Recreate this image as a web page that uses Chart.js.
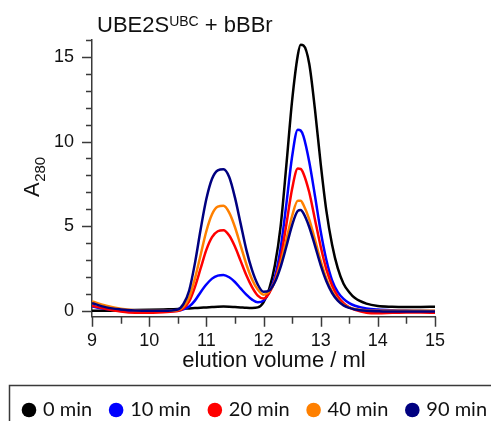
<!DOCTYPE html>
<html>
<head>
<meta charset="utf-8">
<script src="https://cdn.jsdelivr.net/npm/chart.js@4.4.1/dist/chart.umd.min.js"></script>
<style>
  html, body { margin: 0; padding: 0; background: #fff; }
</style>
</head>
<body>
<canvas id="sec-chart" width="491" height="421"></canvas>
<script>
// elution volume (ml) — shared x positions for every trace
const elution = [9.0, 9.25, 9.5, 9.75, 10.0, 10.25, 10.5, 10.6, 10.7, 10.8, 10.9, 11.0, 11.1, 11.2, 11.3, 11.4, 11.5, 11.6, 11.7, 11.8, 11.9, 12.0, 12.1, 12.2, 12.3, 12.4, 12.5, 12.6, 12.65, 12.7, 12.8, 12.9, 13.0, 13.1, 13.2, 13.3, 13.4, 13.5, 13.6, 13.8, 14.0, 14.25, 14.5, 14.75, 15.0];

// A280 traces
const a0min  = [0.0, 0.0, 0.02, 0.04, 0.06, 0.08, 0.1, 0.12, 0.14, 0.16, 0.18, 0.2, 0.22, 0.24, 0.25, 0.24, 0.22, 0.2, 0.18, 0.17, 0.2, 0.5, 1.3, 2.7, 5.0, 8.6, 12.4, 15.1, 15.72, 15.68, 14.6, 11.9, 8.7, 5.9, 3.9, 2.5, 1.6, 1.1, 0.75, 0.42, 0.28, 0.24, 0.23, 0.23, 0.24];
const a10min = [0.25, 0.1, 0.02, -0.02, -0.03, -0.02, 0.0, 0.08, 0.25, 0.6, 1.1, 1.55, 1.9, 2.08, 2.12, 1.98, 1.7, 1.32, 0.95, 0.66, 0.5, 0.6, 1.1, 2.0, 3.7, 6.3, 9.1, 10.7, 10.65, 10.3, 8.8, 6.8, 4.7, 3.0, 1.8, 1.1, 0.7, 0.45, 0.3, 0.14, 0.07, 0.03, 0.01, 0.0, -0.02];
const a20min = [0.3, 0.1, -0.05, -0.12, -0.12, -0.08, -0.02, 0.15, 0.55, 1.4, 2.5, 3.6, 4.35, 4.7, 4.76, 4.45, 3.8, 2.95, 2.1, 1.4, 0.9, 0.72, 1.05, 1.8, 3.1, 5.1, 7.2, 8.4, 8.38, 8.1, 7.0, 5.4, 3.8, 2.45, 1.5, 0.85, 0.45, 0.2, 0.05, -0.12, -0.15, -0.12, -0.1, -0.1, -0.12];
const a40min = [0.55, 0.3, 0.12, 0.03, 0.0, 0.0, 0.05, 0.25, 0.8, 1.9, 3.3, 4.7, 5.7, 6.15, 6.2, 5.8, 4.95, 3.85, 2.75, 1.85, 1.25, 0.95, 1.15, 1.75, 2.8, 4.2, 5.6, 6.5, 6.5, 6.25, 5.4, 4.2, 2.95, 1.9, 1.15, 0.65, 0.35, 0.2, 0.1, 0.02, 0.0, 0.0, 0.0, 0.0, 0.0];
const a90min = [0.45, 0.2, 0.08, 0.02, 0.0, 0.0, 0.08, 0.4, 1.2, 2.8, 4.8, 6.6, 7.8, 8.3, 8.36, 7.9, 6.7, 5.15, 3.6, 2.4, 1.55, 1.12, 1.2, 1.7, 2.6, 3.8, 5.05, 5.9, 5.95, 5.75, 4.95, 3.85, 2.7, 1.75, 1.05, 0.6, 0.32, 0.17, 0.08, 0.0, -0.03, -0.05, -0.05, -0.05, -0.05];

const seriesNames = ['0 min', '10 min', '20 min', '40 min', '90 min'];
const seriesColors = ['#000000', '#0000ff', '#ff0000', '#ff8000', '#000080'];

const xTicks = [9, 9.5, 10, 10.5, 11, 11.5, 12, 12.5, 13, 13.5, 14, 14.5, 15];
const yTicks = [0, 1, 2, 3, 4, 5, 6, 7, 8, 9, 10, 11, 12, 13, 14, 15, 16];

const axisColor = '#3a3a3a';
const labelFont = "'Liberation Sans', Arial, sans-serif";
const legendFont = "Lato, 'Open Sans', sans-serif";

const traces = [a0min, a10min, a20min, a40min, a90min];

// ticks, axis titles, panel title and the boxed legend underneath
const decorations = {
  id: 'decorations',
  afterDraw(chart) {
    const { ctx, scales: { x, y } } = chart;
    ctx.save();
    ctx.strokeStyle = axisColor;
    ctx.lineWidth = 1.5;
    ctx.beginPath();
    x.ticks.forEach(t => {
      const px = Math.round(x.getPixelForValue(t.value)) + 0.5;
      const len = Number.isInteger(t.value) ? 10 : 7;
      ctx.moveTo(px, x.top);
      ctx.lineTo(px, x.top + len);
    });
    y.ticks.forEach(t => {
      const py = Math.round(y.getPixelForValue(t.value)) + 0.5;
      const len = t.value % 5 === 0 ? 10 : 6;
      ctx.moveTo(y.right, py);
      ctx.lineTo(y.right - len, py);
    });
    ctx.stroke();

    ctx.fillStyle = '#111';
    ctx.textBaseline = 'alphabetic';

    // panel title with superscript
    ctx.textAlign = 'left';
    ctx.font = '22px ' + labelFont;
    let tx = 97;
    ctx.fillText('UBE2S', tx, 32);
    tx += ctx.measureText('UBE2S').width;
    ctx.font = '14px ' + labelFont;
    ctx.fillText('UBC', tx, 26);
    tx += ctx.measureText('UBC').width;
    ctx.font = '22px ' + labelFont;
    ctx.fillText(' + bBBr', tx, 32);

    // x title
    ctx.textAlign = 'center';
    ctx.fillText('elution volume / ml', 274, 367);

    // y title A280 with subscript
    ctx.save();
    ctx.translate(39, 197);
    ctx.rotate(-Math.PI / 2);
    ctx.textAlign = 'left';
    ctx.font = '22px ' + labelFont;
    ctx.fillText('A', 0, 0);
    const aw = ctx.measureText('A').width;
    ctx.font = '15px ' + labelFont;
    ctx.fillText('280', aw + 0.5, 6);
    ctx.restore();

    // legend frame (runs off the right and bottom edges)
    ctx.strokeStyle = axisColor;
    ctx.lineWidth = 1.5;
    ctx.strokeRect(9.5, 385.5, 520, 80);

    // legend entries, one row
    ctx.textAlign = 'left';
    ctx.font = '20px ' + legendFont;
    let lx = 29;
    chart.data.datasets.forEach(ds => {
      ctx.fillStyle = ds.borderColor;
      ctx.beginPath();
      ctx.arc(lx, 410, 7.3, 0, Math.PI * 2);
      ctx.fill();
      ctx.fillStyle = '#111';
      ctx.fillText(ds.label, lx + 14, 416);
      lx += 14 + ctx.measureText(ds.label).width + 24;
    });
    ctx.restore();
  }
};

new Chart(document.getElementById('sec-chart').getContext('2d'), {
  type: 'line',
  data: {
    datasets: traces.map((vals, i) => ({
      label: seriesNames[i],
      data: vals.map((v, j) => ({ x: elution[j], y: v })),
      borderColor: seriesColors[i],
      backgroundColor: seriesColors[i],
      borderWidth: 2.5,
      pointRadius: 0,
      cubicInterpolationMode: 'monotone',
      order: 4 - i
    }))
  },
  options: {
    responsive: false,
    animation: false,
    layout: { padding: { left: 9, top: 40, right: 0, bottom: 0 } },
    plugins: {
      title: { display: false },
      tooltip: { enabled: false },
      legend: { display: false }
    },
    scales: {
      x: {
        type: 'linear',
        min: 9,
        max: 15,
        afterBuildTicks: s => { s.ticks = xTicks.map(v => ({ value: v })); },
        afterFit: s => { s.height = 104.3; },
        grid: { display: false, drawTicks: false },
        border: { display: true, color: axisColor, width: 1.5 },
        ticks: {
          autoSkip: false,
          maxRotation: 0,
          padding: 14,
          color: '#111',
          font: { family: labelFont, size: 18 },
          callback: v => Number.isInteger(v) ? String(v) : ''
        }
      },
      y: {
        type: 'linear',
        min: -0.35,
        max: 16,
        afterBuildTicks: s => { s.ticks = yTicks.map(v => ({ value: v })); },
        afterFit: s => { s.width = 83; },
        grid: { display: false, drawTicks: false },
        border: { display: true, color: axisColor, width: 1.5 },
        ticks: {
          autoSkip: false,
          padding: 18,
          color: '#111',
          font: { family: labelFont, size: 18 },
          callback: v => v % 5 === 0 ? String(v) : ''
        }
      },
      yRight: {
        position: 'right',
        display: true,
        afterFit: s => { s.width = 56; },
        grid: { display: false, drawTicks: false },
        border: { display: false },
        ticks: { display: false }
      }
    }
  },
  plugins: [decorations]
});
</script>
</body>
</html>
